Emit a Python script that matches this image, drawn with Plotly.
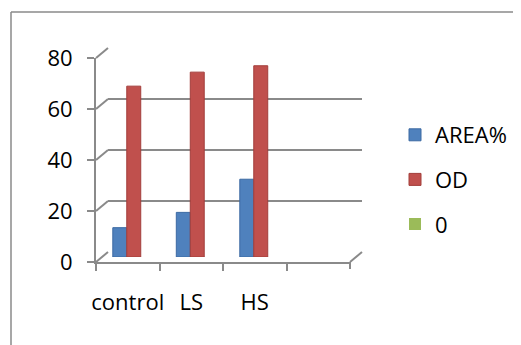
import plotly.graph_objects as go

# ---- data ----
categories = ["control", "LS", "HS"]
area_pct = [11.5, 17.5, 30.5]
od = [67, 72.5, 75]
zero_series = [0, 0, 0]
series_names = ["AREA%", "OD", "0"]
y_ticks = [0, 20, 40, 60, 80]

# ---- style ----
W, H = 521, 345
OFF = 8  # page body margin offset
GRAY = "#8a8a8a"
FONT = "Open Sans"
colors = ["#4F81BD", "#C0504D", "#9BBB59"]
edge_colors = ["#3C6AA3", "#A33E3B", "#9BBB59"]
edge_widths = [1, 1, 0]


def px(x):
    return (x - OFF) / W


def py(y):
    return 1 - (y - OFF) / H


# pixel frames: front axis, mid (bars), back wall
front = dict(x0=96, x1=350, y0=262, y1=58)
dx, dy = 12, -10
mid = dict(x0=front["x0"] + dx / 2, x1=front["x1"] + dx / 2,
           y0=front["y0"] + dy / 2, y1=front["y1"] + dy / 2)
back = dict(x0=front["x0"] + dx, x1=front["x1"] + dx,
            y0=front["y0"] + dy, y1=front["y1"] + dy)


def dom(f):
    return [px(f["x0"]), px(f["x1"])], [py(f["y0"]), py(f["y1"])]


fig = go.Figure()

# invisible carrier for back wall subplot
fig.add_trace(go.Scatter(x=categories, y=zero_series, xaxis="x", yaxis="y",
                         mode="markers", marker=dict(opacity=0),
                         showlegend=False, hoverinfo="skip"))

for name, vals, col, ec, ew in zip(series_names, [area_pct, od, zero_series],
                                   colors, edge_colors, edge_widths):
    fig.add_trace(go.Bar(
        x=categories, y=vals, name=name, xaxis="x2", yaxis="y2",
        marker=dict(color=col, line=dict(width=ew, color=ec)),
        legendgroup=name,
    ))

# invisible carrier for front axes labels
fig.add_trace(go.Scatter(x=categories, y=zero_series, xaxis="x3", yaxis="y3",
                         mode="markers", marker=dict(opacity=0),
                         showlegend=False, hoverinfo="skip"))

bx, by = dom(back)
mx, my = dom(mid)
fx, fy = dom(front)
yr = [y_ticks[0], y_ticks[-1]]
xr = [-0.5, 3.5]

fig.update_layout(
    width=W, height=H,
    margin=dict(l=0, r=0, t=0, b=0, autoexpand=False),
    paper_bgcolor="white", plot_bgcolor="rgba(0,0,0,0)",
    font=dict(family=FONT, size=22, color="black"),
    barmode="group", bargap=0.34, bargroupgap=0,
    showlegend=True,
    legend=dict(x=px(395), y=py(114), xanchor="left", yanchor="top",
                font=dict(family=FONT, size=22, color="black"),
                tracegroupgap=13, bgcolor="rgba(0,0,0,0)",
                itemwidth=30),
    # back wall
    xaxis=dict(domain=bx, anchor="y", type="category", categoryarray=categories,
               range=xr, showgrid=False, showticklabels=False, showline=False,
               zeroline=False, ticks=""),
    yaxis=dict(domain=by, anchor="x", range=yr, tickvals=y_ticks,
               showgrid=True, gridcolor=GRAY, gridwidth=2,
               showticklabels=False, showline=False, zeroline=False, ticks=""),
    # bars (mid depth)
    xaxis2=dict(domain=mx, anchor="y2", type="category", categoryarray=categories,
                range=xr, showgrid=False, showticklabels=False, showline=False,
                zeroline=False, ticks=""),
    yaxis2=dict(domain=my, anchor="x2", range=yr, showgrid=False,
                showticklabels=False, showline=False, zeroline=False, ticks=""),
    # front axes
    xaxis3=dict(domain=fx, anchor="y3", type="category", categoryarray=categories,
                range=xr, showgrid=False, showline=True, linecolor=GRAY,
                linewidth=2, ticks="outside", tickson="boundaries", ticklen=7,
                tickwidth=2, tickcolor=GRAY, zeroline=False, tickangle=0,
                ticklabelstandoff=20,
                tickfont=dict(family=FONT, size=22, color="black")),
    yaxis3=dict(domain=fy, anchor="x3", range=yr, tickvals=y_ticks,
                showgrid=False, showline=True, linecolor=GRAY, linewidth=2,
                ticks="outside", ticklen=7, tickwidth=2, tickcolor=GRAY,
                zeroline=False, ticklabelstandoff=10,
                tickfont=dict(family=FONT, size=22, color="black")),
)

# perspective connectors (decoration) from front axis to back wall
shapes = []
span_f = front["y0"] - front["y1"]
span_b = back["y0"] - back["y1"]
for v in y_ticks:
    yf = front["y0"] - (v - yr[0]) / (yr[1] - yr[0]) * span_f
    yb = back["y0"] - (v - yr[0]) / (yr[1] - yr[0]) * span_b
    shapes.append(dict(type="line", xref="paper", yref="paper",
                       x0=px(front["x0"]), y0=py(yf), x1=px(back["x0"]), y1=py(yb),
                       line=dict(color=GRAY, width=2)))
shapes.append(dict(type="line", xref="paper", yref="paper",
                   x0=px(front["x1"]), y0=py(front["y0"]),
                   x1=px(back["x1"]), y1=py(back["y0"]),
                   line=dict(color=GRAY, width=2)))
# closing tick at the right end of the front category axis
shapes.append(dict(type="line", xref="paper", yref="paper",
                   x0=px(front["x1"]), y0=py(front["y0"]),
                   x1=px(front["x1"]), y1=py(front["y0"] + 7),
                   line=dict(color=GRAY, width=2)))
# outer chart border (top and left visible)
shapes.append(dict(type="line", xref="paper", yref="paper",
                   x0=px(11), y0=py(12), x1=1.05, y1=py(12),
                   line=dict(color=GRAY, width=1.5)))
shapes.append(dict(type="line", xref="paper", yref="paper",
                   x0=px(11), y0=py(12), x1=px(11), y1=-0.05,
                   line=dict(color=GRAY, width=1.5)))
fig.update_layout(shapes=shapes)

fig.write_html("out.html")
